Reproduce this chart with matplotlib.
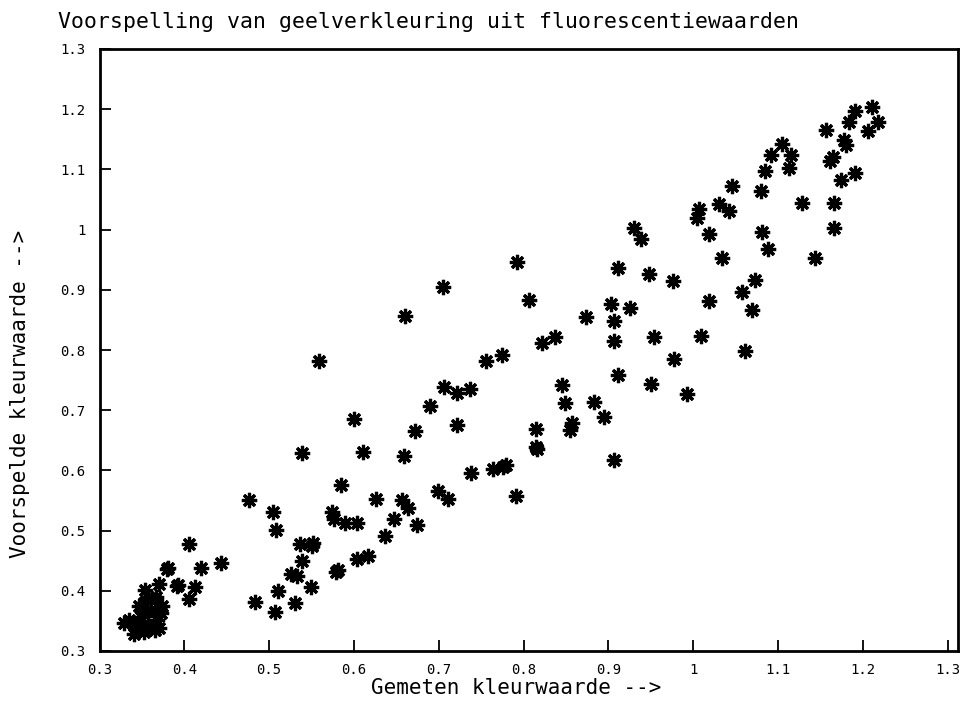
import matplotlib.pyplot as plt

gemeten = [
    0.476, 0.504, 0.508, 0.405, 0.379, 0.420, 0.443, 0.370, 0.391, 0.412,
    0.405, 0.483, 0.511, 0.507, 0.526, 0.559, 0.600, 0.539, 0.611, 0.659,
    0.672, 0.690, 0.706, 0.722, 0.737, 0.722, 0.756, 0.774, 0.585, 0.626,
    0.657, 0.664, 0.574, 0.576, 0.589, 0.603, 0.647, 0.674, 0.637, 0.699,
    0.711, 0.738, 0.764, 0.776, 0.779, 0.791, 0.536, 0.551, 0.552, 0.539,
    0.533, 0.549, 0.530, 0.579, 0.581, 0.603, 0.616, 0.792, 0.938, 1.019,
    1.034, 0.911, 0.948, 0.976, 0.806, 0.903, 0.925, 1.018, 1.057, 0.873,
    0.906, 0.822, 0.837, 0.906, 0.954, 1.009, 1.061, 0.977, 0.911, 0.845,
    0.950, 0.993, 0.849, 0.883, 0.895, 0.814, 0.857, 0.855, 0.814, 0.816,
    0.906, 1.211, 1.190, 1.184, 1.218, 1.206, 1.156, 1.178, 1.180, 1.104,
    1.092, 1.115, 1.113, 1.085, 1.165, 1.161, 1.174, 1.190, 1.046, 1.080,
    1.030, 1.042, 1.128, 1.166, 1.166, 1.081, 1.088, 1.143, 1.073, 1.069,
    1.007, 1.004, 0.930, 0.705, 0.660,
    0.329, 0.353, 0.365, 0.361, 0.349, 0.345, 0.357, 0.368, 0.339, 0.341,
    0.353, 0.365, 0.335, 0.372, 0.357, 0.367, 0.353, 0.354, 0.374, 0.347,
    0.370, 0.381, 0.393,
]
voorspeld = [
    0.551, 0.531, 0.501, 0.478, 0.436, 0.438, 0.447, 0.412, 0.408, 0.406,
    0.387, 0.382, 0.399, 0.364, 0.428, 0.782, 0.685, 0.629, 0.630, 0.624,
    0.666, 0.707, 0.738, 0.729, 0.735, 0.676, 0.781, 0.792, 0.575, 0.552,
    0.551, 0.538, 0.531, 0.520, 0.512, 0.512, 0.519, 0.509, 0.491, 0.565,
    0.552, 0.595, 0.603, 0.606, 0.609, 0.558, 0.477, 0.474, 0.479, 0.450,
    0.425, 0.407, 0.379, 0.432, 0.434, 0.452, 0.458, 0.946, 0.984, 0.993,
    0.952, 0.937, 0.927, 0.915, 0.883, 0.876, 0.870, 0.881, 0.897, 0.854,
    0.848, 0.812, 0.821, 0.815, 0.821, 0.824, 0.798, 0.785, 0.758, 0.742,
    0.743, 0.727, 0.712, 0.714, 0.689, 0.668, 0.679, 0.667, 0.639, 0.636,
    0.617, 1.204, 1.197, 1.179, 1.178, 1.164, 1.165, 1.149, 1.141, 1.142,
    1.124, 1.124, 1.103, 1.097, 1.120, 1.114, 1.082, 1.094, 1.072, 1.064,
    1.042, 1.031, 1.044, 1.044, 1.003, 0.996, 0.967, 0.952, 0.917, 0.866,
    1.034, 1.020, 1.002, 0.904, 0.857,
    0.347, 0.379, 0.385, 0.368, 0.357, 0.340, 0.343, 0.351, 0.346, 0.329,
    0.332, 0.335, 0.351, 0.363, 0.390, 0.390, 0.365, 0.401, 0.375, 0.375,
    0.338, 0.438, 0.410,
]

xticks = [0.3, 0.4, 0.5, 0.6, 0.7, 0.8, 0.9, 1.0, 1.1, 1.2, 1.3]
xticklabels = ['0.3', '0.4', '0.5', '0.6', '0.7', '0.8', '0.9', '1', '1.1', '1.2', '1.3']
yticks = xticks
yticklabels = xticklabels

mono = 'DejaVu Sans Mono'

fig = plt.figure(figsize=(9.66, 7.03), dpi=100)
ax = fig.add_axes([99.5 / 966, 1 - 651 / 703, (958 - 99.5) / 966, (651 - 49) / 703])

ax.plot(gemeten, voorspeld, linestyle='none', marker=(8, 2, 0),
        markersize=11, markeredgewidth=2.3, color='black')
ax.plot(gemeten, voorspeld, linestyle='none', marker='o',
        markersize=5, color='black')

ax.set_xlim(0.3, 1.312)
ax.set_ylim(0.3, 1.3)
ax.set_xticks(xticks)
ax.set_xticklabels(xticklabels, family=mono, fontsize=10)
ax.set_yticks(yticks)
ax.set_yticklabels(yticklabels, family=mono, fontsize=10)
ax.tick_params(direction='in', length=8, width=1.3, pad=9)
ax.tick_params(axis='y', pad=10)
for s in ax.spines.values():
    s.set_linewidth(2.0)

fig.text(58 / 966, 1 - 22 / 703, 'Voorspelling van geelverkleuring uit fluorescentiewaarden',
         family=mono, fontsize=15.5, ha='left', va='center')
fig.text(516 / 966, 1 - 688 / 703, 'Gemeten kleurwaarde -->',
         family=mono, fontsize=15, ha='center', va='center')
fig.text(20 / 966, 1 - 394 / 703, 'Voorspelde kleurwaarde -->',
         family=mono, fontsize=15, ha='center', va='center', rotation=90)

fig.savefig('out.png', dpi=100)
